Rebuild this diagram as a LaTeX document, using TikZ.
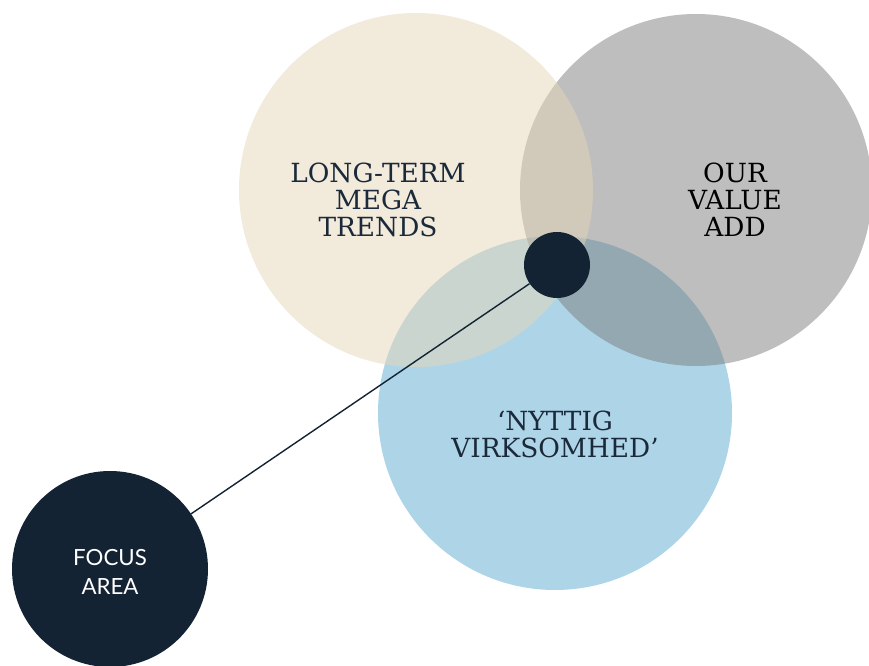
\documentclass[tikz,border=0pt]{standalone}
\usepackage{fontspec}
\setmainfont{DejaVu Serif}
\newfontfamily\labelsans{Lato}
\usetikzlibrary{arrows.meta}
\definecolor{TrendSand}{RGB}{229,213,183}
\definecolor{ValueGray}{RGB}{125,125,125}
\definecolor{UsefulBlue}{RGB}{173,213,231}
\definecolor{Navy}{HTML}{132334}
\definecolor{Ink}{HTML}{1B2A3A}

\begin{document}
\begin{tikzpicture}[x=0.03cm, y=0.03cm,
    bubble/.style={circle, inner sep=0, draw=none},
    bubbletext/.style={align=center, font=\fontsize{22.5}{23}\selectfont, text=Ink}]
    \useasboundingbox (0,0) rectangle (869,665);
    % the three overlapping fields
    \node[bubble, fill=UsefulBlue, minimum size=354*0.03cm] (useful) at (555,252) {};
    \node[bubble, fill=ValueGray, fill opacity=0.5, minimum size=352*0.03cm] (value) at (696,475) {};
    \node[bubble, fill=TrendSand, fill opacity=0.5, minimum size=354*0.03cm] (trends) at (416,475) {};
    \node[bubbletext] at (378,465) {LONG-TERM\\MEGA\\TRENDS};
    \node[bubbletext, text=black] at (735,465) {OUR\\VALUE\\ADD};
    \node[bubbletext] at (555,231) {‘NYTTIG\\VIRKSOMHED’};
    % focus marker and its label
    \node[bubble, fill=Navy, minimum size=196*0.03cm] (focus) at (110,96) {};
    \node[bubble, fill=Navy, minimum size=66*0.03cm] (core) at (557,400) {};
    \draw[Navy, line width=1.2pt] (focus) -- (core);
    \node[align=center, font=\labelsans\fontsize{19}{24.5}\selectfont, text=white] at (110,93) {FOCUS\\AREA};
  \end{tikzpicture}
\end{document}
